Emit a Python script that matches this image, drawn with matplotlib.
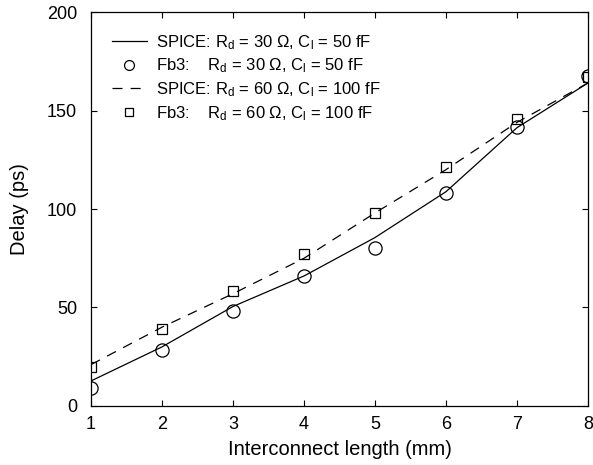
import matplotlib
matplotlib.use("Agg")
import matplotlib.pyplot as plt

plt.rcParams['font.family'] = ['Liberation Sans', 'DejaVu Sans']
plt.rcParams['mathtext.fontset'] = 'custom'
plt.rcParams['mathtext.rm'] = 'Liberation Sans'
plt.rcParams['mathtext.it'] = 'Liberation Sans'

length_mm = [1, 2, 3, 4, 5, 6, 7, 8]
spice_30 = [12.7, 30.0, 50.5, 66.0, 85.5, 108.8, 141.3, 164.0]
fb3_30 = [9.3, 28.3, 48.0, 65.8, 80.4, 108.3, 141.5, 167.5]
spice_60 = [21.0, 40.0, 57.0, 75.0, 98.0, 120.0, 144.0, 164.0]
fb3_60 = [20.0, 39.0, 58.4, 77.0, 97.8, 121.5, 145.5, 166.8]

labels = [
    r"SPICE: R$_\mathregular{d}$ = 30 Ω, C$_\mathregular{l}$ = 50 fF",
    r"Fb3:    R$_\mathregular{d}$ = 30 Ω, C$_\mathregular{l}$ = 50 fF",
    r"SPICE: R$_\mathregular{d}$ = 60 Ω, C$_\mathregular{l}$ = 100 fF",
    r"Fb3:    R$_\mathregular{d}$ = 60 Ω, C$_\mathregular{l}$ = 100 fF",
]

fig = plt.figure(figsize=(5.93, 4.65), dpi=100)
ax = fig.add_axes([0.1535, 0.127, 0.838, 0.847])

ax.plot(length_mm, spice_30, color='black', lw=0.9, label=labels[0])
ax.plot(length_mm, fb3_30, linestyle='none', marker='o', ms=9.5, mfc='none',
        mec='black', mew=0.9, label=labels[1])
ax.plot(length_mm, spice_60, color='black', lw=0.9, linestyle=(0, (8, 6.5)),
        label=labels[2])
ax.plot(length_mm, fb3_60, linestyle='none', marker='s', ms=7.5, mfc='none',
        mec='black', mew=0.9, label=labels[3])

ax.set_xlim(1, 8)
ax.set_ylim(0, 200)
ax.set_xticks(length_mm)
ax.set_yticks([0, 50, 100, 150, 200])
ax.tick_params(direction='in', top=True, right=True, length=4, width=0.8,
               labelsize=13)
ax.tick_params(axis='x', pad=7)
ax.tick_params(axis='y', pad=10)
for s in ax.spines.values():
    s.set_linewidth(0.9)

ax.set_xlabel("Interconnect length (mm)", fontsize=14.5, labelpad=5)
ax.set_ylabel("Delay (ps)", fontsize=14.5, labelpad=13)

leg = ax.legend(loc='upper left', bbox_to_anchor=(0.018, 0.977), frameon=False,
                fontsize=12, handlelength=2.1, handletextpad=0.55,
                labelspacing=0.3, markerscale=0.75, borderaxespad=0.3)

fig.savefig("out.png", dpi=100)
